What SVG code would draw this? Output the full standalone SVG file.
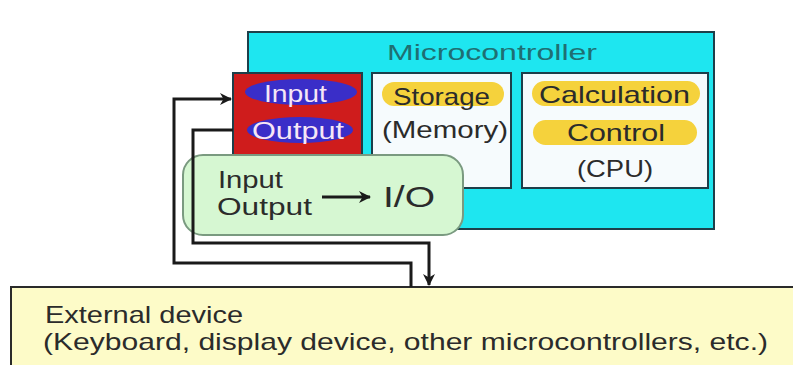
<svg xmlns="http://www.w3.org/2000/svg" width="793" height="365" viewBox="0 0 793 365">
<style>
text{font-family:"Liberation Sans","DejaVu Sans",sans-serif}
.box{stroke:#1d3f4a;stroke-width:2}
.lbl{font-size:24px;fill:#2b2b2b}
.wl{font-size:24px;fill:#f6e6f6}
.pillb{fill:#3a2ec8}
.pilly{fill:#f5d23c}
.con{fill:none;stroke:#1a1a1a;stroke-width:3}
</style>
<defs>
<marker id="ah" markerWidth="12" markerHeight="12" refX="11" refY="6" orient="auto" markerUnits="userSpaceOnUse">
<path d="M0,0 L12,6 L0,12 L3.5,6 Z" fill="#1a1a1a"/>
</marker>
</defs>
<rect width="793" height="365" fill="#ffffff"/>
<g id="microcontroller">
<rect class="box" x="248" y="32" width="466" height="197" fill="#1ee6f0"/>
<text x="387" y="60" font-size="22" fill="#1f6f73" textLength="210" lengthAdjust="spacingAndGlyphs">Microcontroller</text>
</g>
<g id="io-block">
<rect class="box" x="233" y="73" width="129" height="90" fill="#cf1c1c"/>
<ellipse class="pillb" cx="301" cy="92" rx="56" ry="13"/>
<text class="wl" x="264" y="102" textLength="63" lengthAdjust="spacingAndGlyphs">Input</text>
<ellipse class="pillb" cx="300" cy="130" rx="53" ry="13"/>
<text class="wl" x="252" y="139" textLength="92" lengthAdjust="spacingAndGlyphs">Output</text>
</g>
<g id="storage">
<rect class="box" x="372" y="73" width="139" height="115" fill="#f6fbfd"/>
<rect class="pilly" x="382" y="82" width="122" height="24" rx="12"/>
<text class="lbl" x="393" y="105" textLength="97" lengthAdjust="spacingAndGlyphs">Storage</text>
<text class="lbl" x="382" y="138" textLength="126" lengthAdjust="spacingAndGlyphs">(Memory)</text>
</g>
<g id="cpu">
<rect class="box" x="522" y="73" width="186" height="115" fill="#f6fbfd"/>
<rect class="pilly" x="532" y="81" width="168" height="25" rx="12.5"/>
<text class="lbl" x="539" y="103" textLength="151" lengthAdjust="spacingAndGlyphs">Calculation</text>
<rect class="pilly" x="533" y="120" width="164" height="25" rx="12.5"/>
<text class="lbl" x="567" y="141" textLength="98" lengthAdjust="spacingAndGlyphs">Control</text>
<text class="lbl" x="577" y="177" textLength="76" lengthAdjust="spacingAndGlyphs">(CPU)</text>
</g>
<g id="io-note">
<rect x="183" y="155" width="280" height="80" rx="20" fill="#d6f7d2" stroke="#7a9a80" stroke-width="2"/>
<text class="lbl" x="218" y="188" textLength="65" lengthAdjust="spacingAndGlyphs">Input</text>
<text class="lbl" x="217" y="215" textLength="95" lengthAdjust="spacingAndGlyphs">Output</text>
<line x1="322" y1="197" x2="370" y2="197" stroke="#1a1a1a" stroke-width="3" marker-end="url(#ah)"/>
<text x="383" y="207" font-size="30" fill="#2b2b2b" textLength="52" lengthAdjust="spacingAndGlyphs">I/O</text>
</g>
<g id="external-device">
<rect x="11" y="287" width="790" height="90" fill="#fdfbc8" stroke="#2a2a2a" stroke-width="2"/>
<text class="lbl" x="45" y="323" textLength="198" lengthAdjust="spacingAndGlyphs">External device</text>
<text class="lbl" x="43" y="350" textLength="725" lengthAdjust="spacingAndGlyphs">(Keyboard, display device, other microcontrollers, etc.)</text>
</g>
<g id="connectors">
<polyline class="con" points="411,287 411,263 174,263 174,99 231,99" marker-end="url(#ah)"/>
<polyline class="con" points="233,130 193,130 193,243 429,243 429,285" marker-end="url(#ah)"/>
</g>
</svg>
